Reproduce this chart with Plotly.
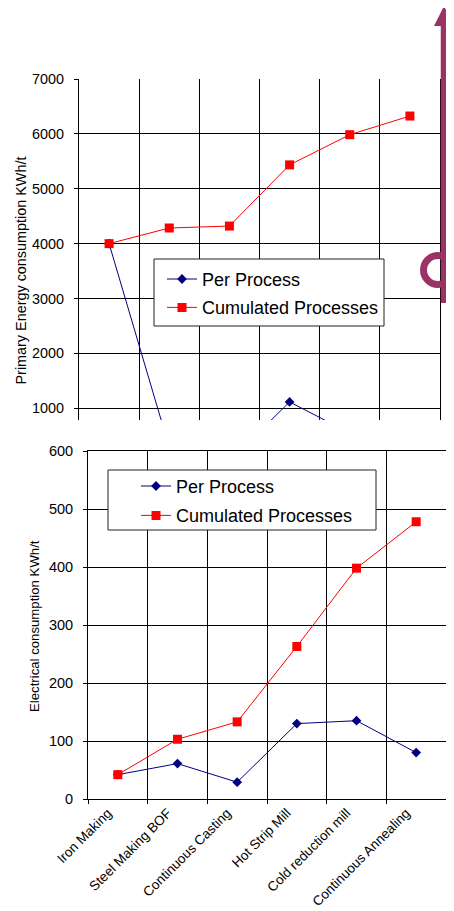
import plotly.graph_objects as go

# ---------------- data ----------------
categories = ["Iron Making", "Steel Making BOF", "Continuous Casting",
              "Hot Strip Mill", "Cold reduction mill", "Continuous Annealing"]

primary_per_process = [4000, 285, 35, 1115, 550, 340]
primary_cumulated = [4000, 4285, 4320, 5435, 5985, 6325]

elec_per_process = [42, 61, 29, 130, 135, 80]
elec_cumulated = [42, 103, 133, 263, 398, 478]

series_names = ["Per Process", "Cumulated Processes"]
primary_ticks = [1000, 2000, 3000, 4000, 5000, 6000, 7000]
elec_ticks = [0, 100, 200, 300, 400, 500, 600]

# ---------------- layout helpers ----------------
OFF = 8                      # page body margin of the html page
W, H = 454 - OFF, 911 - OFF  # figure size so it ends at the window edge
FONT = "Liberation Sans, Arial, sans-serif"
BLUE = "#000080"
RED = "#FF0000"
PLUM = "#993366"


def px(x):
    return (x - OFF) / W


def py(y):
    return 1 - (y - OFF) / H


fig = go.Figure()

# top chart traces
fig.add_trace(go.Scatter(
    x=categories, y=primary_per_process, name=series_names[0],
    mode="lines+markers", line=dict(color=BLUE, width=1),
    marker=dict(symbol="diamond", size=7.5, color=BLUE),
    xaxis="x", yaxis="y", legend="legend", legendgroup="a"))
fig.add_trace(go.Scatter(
    x=categories, y=primary_cumulated, name=series_names[1],
    mode="lines+markers", line=dict(color=RED, width=1),
    marker=dict(symbol="square", size=9, color=RED),
    xaxis="x", yaxis="y", legend="legend", legendgroup="b"))

# bottom chart traces
fig.add_trace(go.Scatter(
    x=categories, y=elec_per_process, name=series_names[0],
    mode="lines+markers", line=dict(color=BLUE, width=1),
    marker=dict(symbol="diamond", size=7.5, color=BLUE),
    xaxis="x2", yaxis="y2", legend="legend2", legendgroup="c"))
fig.add_trace(go.Scatter(
    x=categories, y=elec_cumulated, name=series_names[1],
    mode="lines+markers", line=dict(color=RED, width=1),
    marker=dict(symbol="square", size=9, color=RED),
    xaxis="x2", yaxis="y2", legend="legend2", legendgroup="d"))

axis_common = dict(showgrid=True, gridcolor="#000000", gridwidth=1,
                   linecolor="#000000", linewidth=1, zeroline=False,
                   tickcolor="#000000", automargin=False)

shapes = [
    # legend boxes
    dict(type="rect", xref="paper", yref="paper",
         x0=px(154), x1=px(384), y0=py(326), y1=py(259),
         line=dict(color="#222222", width=1), fillcolor="white", layer="above"),
    dict(type="rect", xref="paper", yref="paper",
         x0=px(108), x1=px(376), y0=py(530), y1=py(470),
         line=dict(color="#222222", width=1), fillcolor="white", layer="above"),
    # purple arrow shaft
    dict(type="line", xref="paper", yref="paper",
         x0=px(444), x1=px(444), y0=py(303), y1=py(24),
         line=dict(color=PLUM, width=6.5), layer="above"),
    # arrow head
    dict(type="path", xref="paper", yref="paper",
         path=f"M {px(434)} {py(26)} L {px(454)} {py(26)} L {px(444)} {py(6)} Z",
         line=dict(color=PLUM, width=0), fillcolor=PLUM, layer="above"),
    # circle
    dict(type="circle", xref="paper", yref="paper",
         x0=px(438 - 14.5), x1=px(438 + 14.5), y0=py(270 + 14.5), y1=py(270 - 14.5),
         line=dict(color=PLUM, width=7), fillcolor="rgba(0,0,0,0)", layer="above"),
]

annotations = [
    dict(text="Primary Energy consumption KWh/t", xref="paper", yref="paper",
         x=px(20.5), y=py(271), textangle=-90, showarrow=False,
         font=dict(size=14.4, family=FONT, color="#000"),
         xanchor="center", yanchor="middle"),
    dict(text="Electrical consumption KWh/t", xref="paper", yref="paper",
         x=px(34), y=py(626), textangle=-90, showarrow=False,
         font=dict(size=13.2, family=FONT, color="#000"),
         xanchor="center", yanchor="middle"),
]

fig.update_layout(
    width=W, height=H,
    margin=dict(l=0, r=0, t=0, b=0, autoexpand=False),
    paper_bgcolor="white", plot_bgcolor="white",
    font=dict(family=FONT, color="#000000"),
    showlegend=True,
    xaxis=dict(domain=[px(79), px(440)], anchor="y", type="category",
               range=[-0.5, 5.5], tickson="boundaries", ticks="",
               showticklabels=False, showline=False, **axis_common),
    yaxis=dict(domain=[py(420), py(79)], anchor="x", range=[786, 7000],
               tickvals=primary_ticks, ticks="outside", ticklen=4,
               showline=True, mirror=True,
               tickfont=dict(size=14.4, family=FONT), ticklabelstandoff=7,
               **axis_common),
    xaxis2=dict(domain=[px(88), px(446)], anchor="y2", type="category",
                range=[-0.5, 5.5], tickson="boundaries", ticks="outside",
                ticklen=4, showline=True, mirror=True, tickangle=-45,
                ticklabelshift=-10, ticklabelstandoff=0,
                tickfont=dict(size=13.5, family=FONT), **axis_common),
    yaxis2=dict(domain=[py(799), py(451)], anchor="x2", range=[0, 600],
                tickvals=elec_ticks, ticks="outside", ticklen=4,
                showline=True, mirror=True,
                tickfont=dict(size=14.5, family=FONT), ticklabelstandoff=7,
                **axis_common),
    legend=dict(x=px(162), y=py(260.8), xanchor="left", yanchor="top",
                bgcolor="rgba(0,0,0,0)", borderwidth=0,
                font=dict(size=18, family=FONT, color="#000"),
                traceorder="grouped", tracegroupgap=2),
    legend2=dict(x=px(136), y=py(467.8), xanchor="left", yanchor="top",
                 bgcolor="rgba(0,0,0,0)", borderwidth=0,
                 font=dict(size=18, family=FONT, color="#000"),
                 traceorder="grouped", tracegroupgap=3),
    shapes=shapes,
    annotations=annotations,
)

fig.write_html("out.html")
